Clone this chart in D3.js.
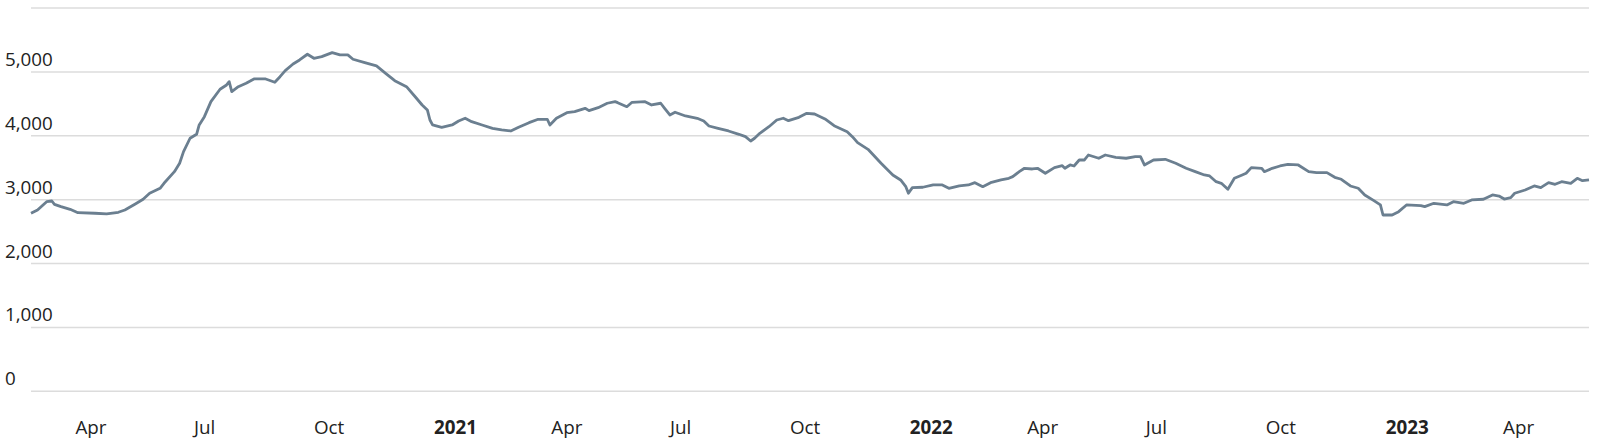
<!DOCTYPE html>
<html>
<head>
<meta charset="utf-8">
<script src="https://cdn.jsdelivr.net/npm/d3@7/dist/d3.min.js"></script>
<style>
  html, body { margin: 0; padding: 0; background: #fff; }
  svg { display: block; }
  text { font-family: "Open Sans", sans-serif; }
</style>
</head>
<body>
<svg id="chart" width="1600" height="444"></svg>
<script>
const dates = [
"2020-03-01","2020-03-06","2020-03-13","2020-03-17","2020-03-19","2020-03-24","2020-03-31","2020-04-06","2020-04-19","2020-04-28",
"2020-05-07","2020-05-12","2020-05-20","2020-05-26","2020-05-31","2020-06-08","2020-06-11","2020-06-19","2020-06-23","2020-06-26",
"2020-07-01","2020-07-06","2020-07-08","2020-07-12","2020-07-17","2020-07-24","2020-07-29","2020-07-31","2020-08-02","2020-08-07",
"2020-08-13","2020-08-19","2020-08-28","2020-09-04","2020-09-08","2020-09-12","2020-09-18","2020-09-23","2020-09-29","2020-10-04",
"2020-10-10","2020-10-18","2020-10-24","2020-10-30","2020-11-03","2020-11-12","2020-11-21","2020-11-28","2020-12-05","2020-12-14",
"2020-12-21","2020-12-26","2020-12-30","2021-01-01","2021-01-03","2021-01-10","2021-01-18","2021-01-23","2021-01-28","2021-02-02",
"2021-02-10","2021-02-18","2021-02-25","2021-03-04","2021-03-10","2021-03-18","2021-03-25","2021-04-01","2021-04-03","2021-04-08",
"2021-04-16","2021-04-22","2021-04-30","2021-05-03","2021-05-10","2021-05-17","2021-05-23","2021-05-25","2021-06-01","2021-06-05",
"2021-06-15","2021-06-20","2021-06-27","2021-06-30","2021-07-04","2021-07-08","2021-07-16","2021-07-25","2021-07-30","2021-08-03",
"2021-08-10","2021-08-18","2021-08-26","2021-08-31","2021-09-04","2021-09-07","2021-09-11","2021-09-18","2021-09-24","2021-09-29",
"2021-10-03","2021-10-11","2021-10-17","2021-10-23","2021-10-31","2021-11-07","2021-11-17","2021-11-21","2021-11-25","2021-12-03",
"2021-12-13","2021-12-22","2021-12-28","2022-01-01","2022-01-03","2022-01-06","2022-01-14","2022-01-22","2022-01-29","2022-02-03",
"2022-02-11","2022-02-18","2022-02-23","2022-03-01","2022-03-07","2022-03-15","2022-03-21","2022-03-24","2022-03-29","2022-04-02",
"2022-04-08","2022-04-12","2022-04-18","2022-04-25","2022-05-01","2022-05-03","2022-05-07","2022-05-10","2022-05-14","2022-05-18",
"2022-05-21","2022-05-29","2022-06-03","2022-06-11","2022-06-19","2022-06-26","2022-06-30","2022-07-03","2022-07-10","2022-07-19",
"2022-07-27","2022-08-04","2022-08-11","2022-08-18","2022-08-22","2022-08-27","2022-08-31","2022-09-05","2022-09-10","2022-09-16",
"2022-09-19","2022-09-23","2022-10-01","2022-10-03","2022-10-09","2022-10-15","2022-10-21","2022-10-29","2022-11-06","2022-11-12",
"2022-11-20","2022-11-26","2022-12-01","2022-12-08","2022-12-14","2022-12-19","2022-12-26","2022-12-31","2023-01-02","2023-01-09",
"2023-01-14","2023-01-20","2023-01-31","2023-02-03","2023-02-10","2023-02-20","2023-02-25","2023-03-05","2023-03-11","2023-03-20",
"2023-03-27","2023-04-01","2023-04-05","2023-04-10","2023-04-13","2023-04-21","2023-04-28","2023-05-03","2023-05-09","2023-05-14",
"2023-05-19","2023-05-26","2023-05-31","2023-06-04","2023-06-09"
];
const values = [
2787,2838,2968,2979,2927,2890,2849,2796,2787,2776,
2802,2838,2932,3006,3100,3178,3256,3438,3569,3751,
3961,4023,4169,4299,4534,4728,4795,4847,4690,4768,
4822,4889,4889,4837,4925,5019,5124,5187,5276,5213,
5238,5301,5265,5265,5198,5144,5093,4978,4862,4768,
4603,4482,4404,4247,4169,4133,4169,4232,4274,4221,
4169,4117,4091,4075,4133,4205,4258,4258,4169,4274,
4361,4377,4430,4393,4440,4509,4534,4518,4455,4524,
4534,4482,4509,4430,4326,4368,4310,4274,4232,4153,
4117,4075,4023,3986,3918,3961,4039,4142,4247,4274,
4236,4289,4352,4341,4263,4158,4064,3986,3892,3788,
3569,3386,3308,3203,3100,3188,3194,3230,3230,3178,
3214,3230,3266,3203,3266,3308,3334,3360,3438,3491,
3480,3491,3413,3501,3532,3491,3543,3527,3621,3621,
3699,3648,3699,3663,3648,3673,3673,3543,3621,3632,
3569,3491,3438,3386,3371,3281,3256,3162,3334,3386,
3413,3501,3491,3438,3491,3527,3553,3543,3438,3423,
3423,3350,3319,3214,3178,3073,2984,2917,2760,2760,
2812,2917,2906,2890,2943,2917,2968,2943,2995,3006,
3073,3057,3010,3031,3100,3151,3214,3188,3266,3240,
3281,3256,3334,3297,3308
];
const yTicks = [0, 1000, 2000, 3000, 4000, 5000, 6000];
const yTickLabels = ["0", "1,000", "2,000", "3,000", "4,000", "5,000", ""];
const xDomain = ["2020-03-01", "2023-06-09"];
const monthNames = {3: "Apr", 6: "Jul", 9: "Oct"};

(function () {
  const parse = d3.timeParse("%Y-%m-%d");
  const data = dates.map((d, i) => ({date: parse(d), value: values[i]}));

  const svg = d3.select("#chart");
  const mLeft = 31, mRight = 1589, mTop = 8, mBottom = 391.3;

  const x = d3.scaleTime().domain(xDomain.map(parse)).range([mLeft, mRight]);
  const y = d3.scaleLinear().domain([0, 6000]).range([mBottom, mTop]);

  // gridlines
  svg.append("g").selectAll("line").data(yTicks).join("line")
    .attr("x1", mLeft).attr("x2", mRight)
    .attr("y1", d => y(d)).attr("y2", d => y(d))
    .attr("stroke", "#dcdcdc").attr("stroke-width", 1.5);

  // y labels
  svg.append("g").selectAll("text").data(yTicks).join("text")
    .attr("x", 5).attr("y", d => y(d) - 6)
    .attr("font-size", 18.8).attr("fill", "#222")
    .text((d, i) => yTickLabels[i]);

  // x labels
  const xTicks = x.ticks(d3.timeMonth.every(3));
  svg.append("g").selectAll("text").data(xTicks).join("text")
    .attr("x", d => x(d) + 4).attr("y", 434)
    .attr("font-size", 18.8).attr("fill", "#222")
    .attr("font-weight", d => d.getMonth() === 0 ? 700 : 400)
    .text(d => d.getMonth() === 0 ? d.getFullYear() : monthNames[d.getMonth()]);

  // line
  const line = d3.line().x(d => x(d.date)).y(d => y(d.value));
  svg.append("path").datum(data)
    .attr("d", line)
    .attr("fill", "none")
    .attr("stroke", "#6b7f90")
    .attr("stroke-width", 2.8)
    .attr("stroke-linejoin", "round");
})();
</script>
</body>
</html>
